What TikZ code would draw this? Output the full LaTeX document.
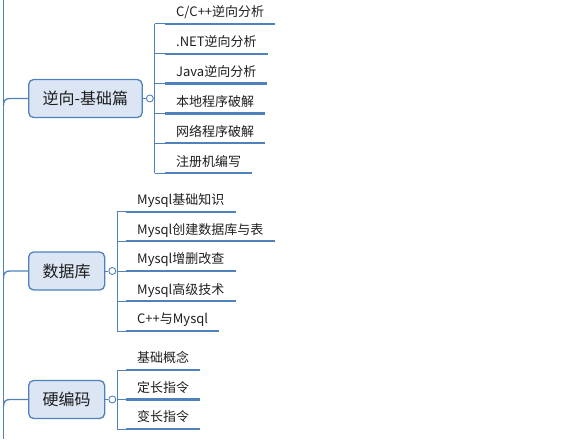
\documentclass[tikz,border=0pt]{standalone}
\usepackage{fontspec}
\setmainfont{Noto Sans CJK SC}
\definecolor{lineblue}{RGB}{79,129,189}
\definecolor{boxfill}{RGB}{219,229,243}
\definecolor{txt}{RGB}{30,30,30}
\tikzset{
  topic/.style={draw=lineblue, fill=boxfill, line width=1.3pt, rounded corners=5pt,
    minimum height=38pt, inner xsep=14pt, font=\fontsize{16}{18}\selectfont, text=txt, anchor=west},
  leaf/.style={anchor=south west, inner xsep=11pt, inner ysep=4pt, text height=10pt, text depth=3pt,
    font=\fontsize{13}{15}\selectfont, text=txt},
  uline/.style={draw=lineblue, line width=2.2pt},
  conn/.style={draw=lineblue, line width=0.9pt},
  mainline/.style={draw=lineblue, line width=1.3pt},
  knob/.style={circle, draw=lineblue, fill=white, line width=0.9pt, minimum size=7pt, inner sep=0pt}
}
\begin{document}
\begin{tikzpicture}[x=1pt,y=-1pt]
\useasboundingbox (0,0) rectangle (569,439);
% main vertical line
\coordinate (mtop) at (3.5,0);
\coordinate (mbot) at (3.5,439);
\draw[mainline] (mtop) -- (mbot);

% ---------- group 1 ----------
\node[topic] (g1) at (28,98.5) {逆向-基础篇};
\node[knob] (k1) at ([xshift=7pt]g1.east) {};
\coordinate (v1) at ([xshift=12pt]g1.east);
\foreach \i/\t in {0/{C/C++逆向分析},1/.NET逆向分析,2/Java逆向分析,3/本地程序破解,4/网络程序破解,5/注册机编写}{
  \node[leaf] (a\i) at (165,23.7+29.92*\i) {\t};
  \draw[uline] (a\i.south west) -- (a\i.south east);
  \draw[conn] (a\i.south west) -- (a\i.south west -| v1);
}
\draw[conn] (a0.south west -| v1) -- (a5.south west -| v1);
\draw[conn] (g1.east) -- (k1.west);
\coordinate (m1) at (3.5,106);
\draw[mainline] (g1.west) -- (10,98.5) .. controls (5.5,98.5) and (3.5,100.5) .. (m1);

% ---------- group 2 ----------
\node[topic] (g2) at (28,271) {数据库};
\node[knob] (k2) at ([xshift=7pt]g2.east) {};
\coordinate (v2) at ([xshift=12pt]g2.east);
\foreach \i/\t/\y in {0/Mysql基础知识/211.7,1/Mysql创建数据库与表/241.3,2/Mysql增删改查/271,3/Mysql高级技术/301.3,4/C++与Mysql/331}{
  \node[leaf] (b\i) at (126,\y) {\t};
  \draw[uline] (b\i.south west) -- (b\i.south east);
  \draw[conn] (b\i.south west) -- (b\i.south west -| v2);
}
\draw[conn] (b0.south west -| v2) -- (b4.south west -| v2);
\draw[conn] (g2.east) -- (k2.west);
\coordinate (m2) at (3.5,278.5);
\draw[mainline] (g2.west) -- (10,271) .. controls (5.5,271) and (3.5,273) .. (m2);

% ---------- group 3 ----------
\node[topic] (g3) at (28,399.5) {硬编码};
\node[knob] (k3) at ([xshift=7pt]g3.east) {};
\coordinate (v3) at ([xshift=12pt]g3.east);
\foreach \i/\t/\y in {0/基础概念/370,1/定长指令/399.5,2/变长指令/429}{
  \node[leaf] (c\i) at (126,\y) {\t};
  \draw[uline] (c\i.south west) -- (c\i.south east);
  \draw[conn] (c\i.south west) -- (c\i.south west -| v3);
}
\draw[conn] (c0.south west -| v3) -- (c2.south west -| v3);
\draw[conn] (g3.east) -- (k3.west);
\coordinate (m3) at (3.5,407);
\draw[mainline] (g3.west) -- (10,399.5) .. controls (5.5,399.5) and (3.5,401.5) .. (m3);
\end{tikzpicture}
\end{document}
